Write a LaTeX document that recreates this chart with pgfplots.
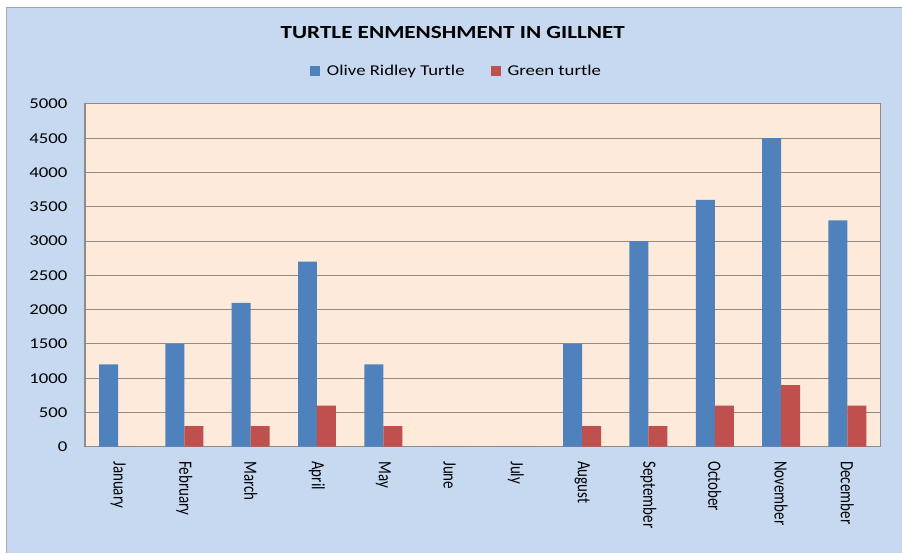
\documentclass[border=0pt]{standalone}
\usepackage{pgfplots}
\pgfplotsset{compat=1.18}
\usepackage{graphicx}
\usepackage{fontspec}
\setmainfont{Carlito}
\definecolor{bgblue}{HTML}{C6D9F1}
\definecolor{peach}{HTML}{FDEADA}
\definecolor{barblue}{HTML}{4F81BD}
\definecolor{barred}{HTML}{C0504D}
\definecolor{gridgray}{HTML}{8C8C8C}
\newcommand\sx[1]{\scalebox{1.25}[1]{#1}}
\newcommand\sy[1]{\scalebox{1}[1.25]{#1}}
\begin{document}
\begin{tikzpicture}
\fill[white] (0pt,0pt) rectangle (902pt,553pt);
\fill[bgblue] (7pt,0pt) rectangle (902pt,545pt);
\draw[gray!70, line width=1pt] (7pt,0pt) -- (7pt,545pt) -- (902pt,545pt);
\node[font=\fontsize{18.5}{20}\selectfont\bfseries] at (453pt,520.5pt) {\sx{TURTLE ENMENSHMENT IN GILLNET}};
\begin{axis}[
  at={(85pt,106pt)}, anchor=south west, scale only axis,
  width=796pt, height=343pt,
  ybar=0pt, bar width=19pt,
  xmin=-0.5, xmax=11.5, ymin=0, ymax=5000,
  xtick={0,...,11},
  xticklabels={\sy{January},\sy{February},\sy{March},\sy{April},\sy{May},\sy{June},\sy{July},\sy{August},\sy{September},\sy{October},\sy{November},\sy{December}},
  ytick={0,500,...,5000},
  yticklabels={\sx{0},\sx{500},\sx{1000},\sx{1500},\sx{2000},\sx{2500},\sx{3000},\sx{3500},\sx{4000},\sx{4500},\sx{5000}},
  major tick length=0pt,
  ymajorgrids, grid style={gridgray, line width=1.1pt},
  axis line style={gridgray, line width=1.1pt},
  axis background/.style={fill=peach},
  xticklabel style={rotate=-90, anchor=west, font=\fontsize{15}{18}\selectfont},
  xticklabel shift=11pt,
  yticklabel style={anchor=east, font=\fontsize{15}{18}\selectfont},
  yticklabel shift=14pt,
  legend style={at={(0.467,1.096)}, anchor=center, draw=none, fill=none,
    legend columns=2, font=\fontsize{15}{18}\selectfont,
    /tikz/every odd column/.append style={column sep=5pt},
    /tikz/every even column/.append style={column sep=24pt}},
  legend image code/.code={\fill[#1] (0pt,-5pt) rectangle (10pt,5pt);},
]
\addplot[fill=barblue, draw=none] coordinates {(0,1200) (1,1500) (2,2100) (3,2700) (4,1200) (5,0) (6,0) (7,1500) (8,3000) (9,3600) (10,4500) (11,3300)};
\addplot[fill=barred, draw=none] coordinates {(0,0) (1,300) (2,300) (3,600) (4,300) (5,0) (6,0) (7,300) (8,300) (9,600) (10,900) (11,600)};
\legend{\sx{Olive Ridley Turtle},\sx{Green turtle}}
\end{axis}
\end{tikzpicture}
\end{document}
